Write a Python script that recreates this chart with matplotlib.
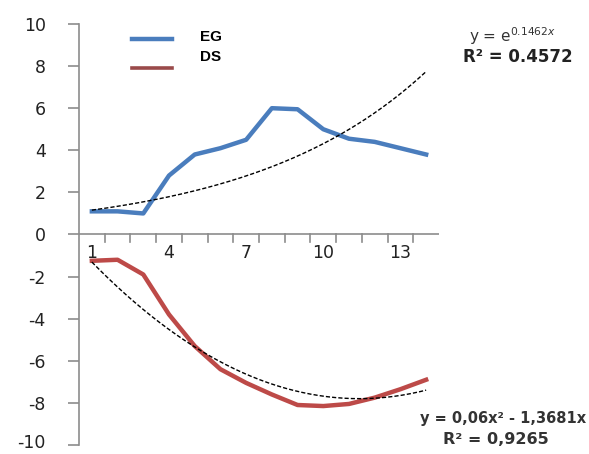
import numpy as np
import matplotlib.pyplot as plt
import matplotlib.transforms as mtransforms
from matplotlib.lines import Line2D

# category index 1..14
periods = np.arange(1, 15)
eg = [1.1, 1.1, 1.0, 2.8, 3.8, 4.1, 4.5, 6.0, 5.95, 5.0, 4.55, 4.4, 4.1, 3.8]
ds = [-1.25, -1.2, -1.9, -3.8, -5.3, -6.4, -7.05, -7.6, -8.1, -8.15, -8.05, -7.75, -7.35, -6.9]

# trendline coefficients as printed on the chart
exp_k = 0.1462
poly_a, poly_b = 0.06, -1.3681

yticks = [10, 8, 6, 4, 2, 0, -2, -4, -6, -8, -10]
xlabels = {1: "1", 4: "4", 7: "7", 10: "10", 13: "13"}

fig = plt.figure(figsize=(5.89, 4.54), dpi=100)
ax = fig.add_axes([79 / 589, 1 - 445 / 454, (439 - 79) / 589, (445 - 24) / 454])

blue = "#4a7dbd"
red = "#bd4a48"

ax.plot(periods, eg, color=blue, lw=3.2, solid_joinstyle="round", zorder=3)
ax.plot(periods, ds, color=red, lw=3.2, solid_joinstyle="round", zorder=3)

xt = np.linspace(1, 14, 200)
ax.plot(xt, np.exp(exp_k * xt), color="black", lw=1.0, ls=(0, (3, 1.5)), zorder=4)
ax.plot(xt, poly_a * xt ** 2 + poly_b * xt, color="black", lw=1.0, ls=(0, (3, 1.5)), zorder=4)

ax.set_xlim(0.5, 14.5)
ax.set_ylim(-10, 10)

for s in ["top", "right", "bottom"]:
    ax.spines[s].set_visible(False)
ax.spines["left"].set_color("#8c8c8c")
ax.spines["left"].set_linewidth(1.2)

ax.set_yticks(yticks)
ax.set_yticklabels([str(v) for v in yticks], fontsize=12.5, color="#222222")
ax.tick_params(axis="y", direction="out", length=8, width=1.2, color="#8c8c8c", pad=16)

# keep the bottom label inside the figure
lowest = ax.get_yticklabels()[-1]
lowest.set_transform(lowest.get_transform()
                     + mtransforms.ScaledTranslation(0, 3 / 72, fig.dpi_scale_trans))

# horizontal category axis through zero, ticks between categories
ax.axhline(0, color="#8c8c8c", lw=1.2, zorder=2)
ax.set_xticks([])
for b in np.arange(1.5, 14.5, 1.0):
    ax.plot([b, b], [0, -0.38], color="#8c8c8c", lw=1.2, zorder=2)
for k, lab in xlabels.items():
    ax.text(k, -0.45, lab, ha="center", va="top", fontsize=12.5, color="#222222")

# legend
handles = [Line2D([], [], color=blue, lw=3.2), Line2D([], [], color="#9a4a4a", lw=2.6)]
fig.legend(handles, ["", ""], loc="upper left", bbox_to_anchor=(125 / 589, 1 - 26 / 454),
           frameon=False, handlelength=2.9, labelspacing=1.05, borderpad=0)
fig.text(200 / 589, 1 - 37 / 454, "EG", fontsize=11, fontweight="bold", va="center",
         family="Liberation Sans")
fig.text(200 / 589, 1 - 57 / 454, "DS", fontsize=11, fontweight="bold", va="center",
         family="Liberation Sans")

# trendline equations
fig.text(512 / 589, 1 - 36 / 454, "y = e$^{0.1462x}$", fontsize=11, ha="center", va="center",
         color="#333333")
fig.text(518 / 589, 1 - 57 / 454, "R² = 0.4572", fontsize=12, fontweight="bold",
         ha="center", va="center", color="#222222")
fig.text(586 / 589, 1 - 418 / 454, "y = 0,06x² - 1,3681x", fontsize=10.5, fontweight="bold",
         ha="right", va="center", color="#333333")
fig.text(496 / 589, 1 - 440 / 454, "R² = 0,9265", fontsize=11.5, fontweight="bold",
         ha="center", va="center", color="#333333")

fig.savefig("out.png", dpi=100)
